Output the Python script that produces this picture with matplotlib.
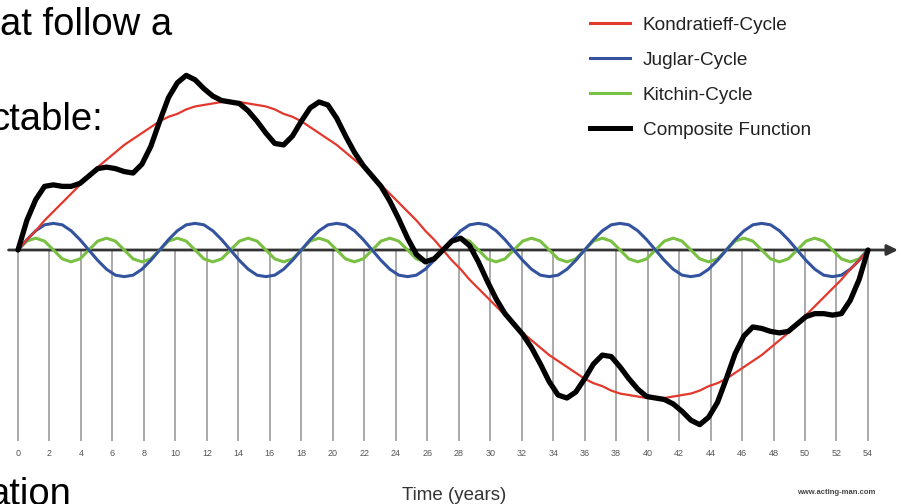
from __future__ import annotations

import matplotlib

matplotlib.use("Agg")

import matplotlib.pyplot as plt
import numpy as np
from matplotlib.lines import Line2D

plt.rcParams["font.family"] = ["Liberation Sans", "DejaVu Sans"]

# curves sampled every 0.5625 years (1/8 of a Kitchin cycle), 0..54
YEAR_START = 0
YEAR_END = 54
N_SAMPLES = 97

kondratieff = [
    0, 7, 13, 20, 26, 32, 38, 44, 50, 56, 61, 66, 71, 75, 79, 83,
    87, 90, 92, 95, 97, 98, 99, 100, 100, 100, 99, 98, 97, 95, 92, 90,
    87, 83, 79, 75, 71, 66, 61, 56, 50, 44, 38, 32, 26, 20, 13, 7,
    0, -7, -13, -20, -26, -32, -38, -44, -50, -56, -61, -66, -71, -75, -79, -83,
    -87, -90, -92, -95, -97, -98, -99, -100, -100, -100, -99, -98, -97, -95, -92, -90,
    -87, -83, -79, -75, -71, -66, -61, -56, -50, -44, -38, -32, -26, -20, -13, -7,
    0,
]
juglar = [
    0, 7, 13, 17, 18, 17, 13, 7, 0, -7, -13, -17, -18, -17, -13, -7,
    0, 7, 13, 17, 18, 17, 13, 7, 0, -7, -13, -17, -18, -17, -13, -7,
    0, 7, 13, 17, 18, 17, 13, 7, 0, -7, -13, -17, -18, -17, -13, -7,
    0, 7, 13, 17, 18, 17, 13, 7, 0, -7, -13, -17, -18, -17, -13, -7,
    0, 7, 13, 17, 18, 17, 13, 7, 0, -7, -13, -17, -18, -17, -13, -7,
    0, 7, 13, 17, 18, 17, 13, 7, 0, -7, -13, -17, -18, -17, -13, -7,
    0,
]
kitchin = [
    0, 6, 8, 6, 0, -6, -8, -6, 0, 6, 8, 6, 0, -6, -8, -6,
    0, 6, 8, 6, 0, -6, -8, -6, 0, 6, 8, 6, 0, -6, -8, -6,
    0, 6, 8, 6, 0, -6, -8, -6, 0, 6, 8, 6, 0, -6, -8, -6,
    0, 6, 8, 6, 0, -6, -8, -6, 0, 6, 8, 6, 0, -6, -8, -6,
    0, 6, 8, 6, 0, -6, -8, -6, 0, 6, 8, 6, 0, -6, -8, -6,
    0, 6, 8, 6, 0, -6, -8, -6, 0, 6, 8, 6, 0, -6, -8, -6,
    0,
]
composite = [
    0, 20, 34, 43, 44, 43, 43, 45, 50, 55, 56, 55, 53, 52, 58, 70,
    87, 103, 113, 118, 115, 109, 104, 101, 100, 99, 94, 87, 79, 72, 71, 77,
    87, 96, 100, 98, 89, 77, 66, 57, 50, 43, 33, 21, 8, -3, -8, -6,
    0, 6, 8, 3, -8, -21, -33, -43, -50, -57, -66, -77, -89, -98, -100, -96,
    -87, -77, -71, -72, -79, -87, -94, -99, -100, -101, -104, -109, -115, -118, -113, -103,
    -87, -70, -58, -52, -53, -55, -56, -55, -50, -45, -43, -43, -44, -43, -34, -20,
    0,
]
tick_years = list(range(0, 56, 2))

labels = ["Kondratieff-Cycle", "Juglar-Cycle", "Kitchin-Cycle", "Composite Function"]
colors = ["#e2382d", "#34539f", "#79c043", "#000000"]

W, H = 901, 504


def fx(px: float) -> float:
    return px / W


def fy(py: float) -> float:
    return 1 - py / H


def main() -> None:
    fig = plt.figure(figsize=(W / 100, H / 100), dpi=100)
    fig.patch.set_facecolor("white")
    ax = fig.add_axes([0, 0, 1, 1])
    ax.set_axis_off()
    # pixel mapping: x = 18 + 15.74 * year, y = 250 - 1.48 * value
    ax.set_xlim(-18 / 15.74, (W - 18) / 15.74)
    ax.set_ylim((250 - H) / 1.48, 250 / 1.48)

    years = np.linspace(YEAR_START, YEAR_END, N_SAMPLES)

    ax.vlines(tick_years, (250 - 441) / 1.48, 0, color="#a3a3a3", lw=1.3, zorder=1)
    for yr in tick_years:
        ax.text(yr, (250 - 453) / 1.48, str(yr), ha="center", va="center",
                fontsize=6.5, color="#555555")

    ax.annotate("", xy=(55.9, 0), xytext=(-0.6, 0),
                arrowprops=dict(arrowstyle="-|>", color="#333333", lw=2.0,
                                mutation_scale=16, shrinkA=0, shrinkB=0),
                zorder=2)

    ax.plot(years, kitchin, color=colors[2], lw=2.2, zorder=3, solid_capstyle="round")
    ax.plot(years, juglar, color=colors[1], lw=2.2, zorder=4, solid_capstyle="round")
    ax.plot(years, kondratieff, color=colors[0], lw=1.6, zorder=5, solid_capstyle="round")
    ax.plot(years, composite, color=colors[3], lw=3.8, zorder=6,
            solid_capstyle="round", solid_joinstyle="round")

    handles = [
        Line2D([], [], color=colors[0], lw=2.2),
        Line2D([], [], color=colors[1], lw=2.2),
        Line2D([], [], color=colors[2], lw=2.2),
        Line2D([], [], color=colors[3], lw=3.6),
    ]
    ax.legend(handles, labels, loc="upper left", bbox_to_anchor=(fx(590), fy(16.5)),
              bbox_transform=fig.transFigure, frameon=False, fontsize=13.7,
              borderpad=0, borderaxespad=0, handlelength=2.12, handletextpad=0.64,
              labelspacing=0.93, labelcolor="#222222")

    fig.text(fx(454), fy(500), "Time (years)", ha="center", va="baseline",
             fontsize=13.5, color="#333333")
    fig.text(fx(836), fy(493), "www.acting-man.com", ha="center", va="center",
             fontsize=5.5, color="#444444", fontweight="bold")

    # slide text cut off by the screenshot
    fig.text(fx(172), fy(35), "at follow a", ha="right", va="baseline",
             fontsize=27.5, color="black")
    fig.text(fx(103), fy(130), "ctable:", ha="right", va="baseline",
             fontsize=27.5, color="black")
    fig.text(fx(71), fy(505), "ation", ha="right", va="baseline",
             fontsize=27.5, color="black")

    fig.savefig("out.png", dpi=100, facecolor="white")
    plt.close(fig)


if __name__ == "__main__":
    main()
